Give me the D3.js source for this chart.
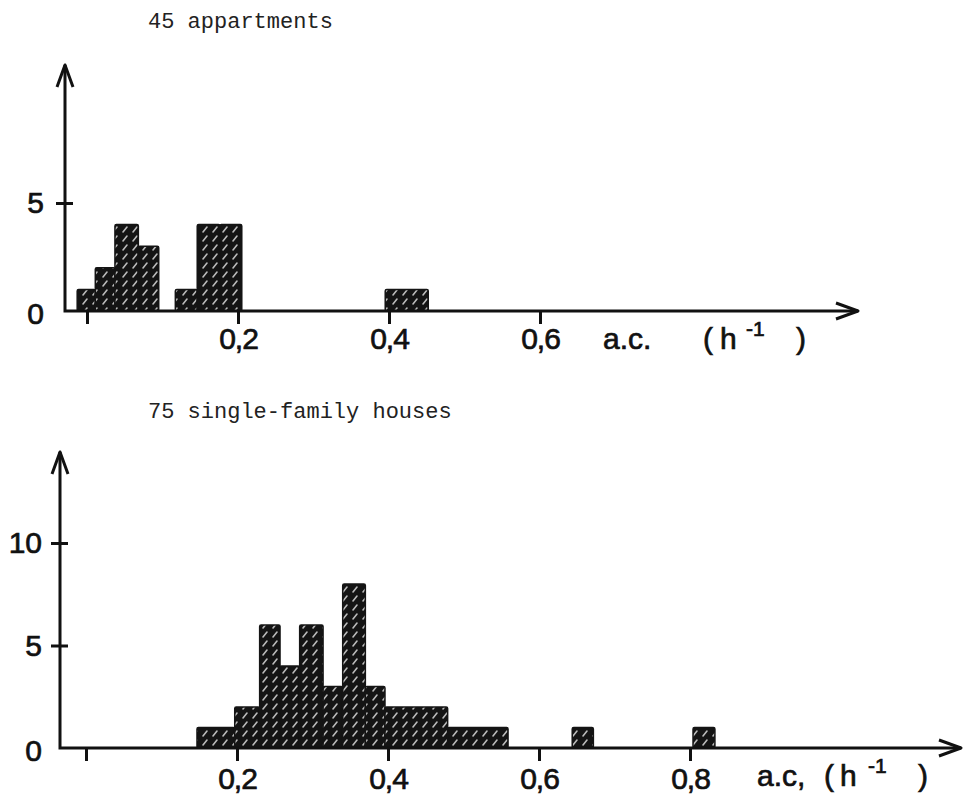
<!DOCTYPE html>
<html>
<head>
<meta charset="utf-8">
<script src="https://cdn.jsdelivr.net/npm/d3@7"></script>
<style>
  body { margin: 0; background: #fff; }
  svg { display: block; }
  .title { font-family: 'Liberation Mono', 'DejaVu Sans Mono', monospace; font-size: 22px; fill: #222; }
  .lbl { font-family: 'Liberation Sans', Arial, sans-serif; font-size: 30px; fill: #111; stroke: #111; stroke-width: 0.7px; }
  .axis .domain { display: none; }
  .axis line { stroke: #111; stroke-width: 3px; }
</style>
</head>
<body>
<div id="chart"></div>
<script>
// top panel: 45 appartments
const topTitle = '45 appartments';
const topBinStart = [-0.013, 0.011, 0.037, 0.068, 0.117, 0.146, 0.176, 0.395];
const topBinEnd = [0.011, 0.037, 0.068, 0.095, 0.146, 0.176, 0.205, 0.452];
const topCounts = [1, 2, 4, 3, 1, 4, 4, 1];
const topXTicks = [0, 0.2, 0.4, 0.6];
const topYTicks = [0, 5];

// bottom panel: 75 single-family houses
const botTitle = '75 single-family houses';
const botBinStart = [0.147, 0.197, 0.230, 0.257, 0.283, 0.314, 0.340, 0.370, 0.396, 0.479, 0.644, 0.804];
const botBinEnd = [0.197, 0.230, 0.257, 0.283, 0.314, 0.340, 0.370, 0.396, 0.479, 0.559, 0.672, 0.833];
const botCounts = [1, 2, 6, 4, 6, 3, 8, 3, 2, 1, 1, 1];
const botXTicks = [0, 0.2, 0.4, 0.6, 0.8];
const botYTicks = [0, 5, 10];

const width = 963;
const height = 802;

const svg = d3.select('#chart')
  .append('svg')
  .attr('width', width)
  .attr('height', height);

const defs = svg.append('defs');
const pat = defs.append('pattern')
  .attr('id', 'hatch')
  .attr('patternUnits', 'userSpaceOnUse')
  .attr('width', 10)
  .attr('height', 9);
pat.append('rect').attr('width', 10).attr('height', 9).attr('fill', '#141414');
pat.append('line')
  .attr('x1', 3).attr('y1', 7).attr('x2', 7).attr('y2', 2)
  .attr('stroke', '#bbb').attr('stroke-width', 1.6).attr('stroke-linecap', 'round');

const commaFmt = d => (d === 0 ? '' : d3.format('.1f')(d).replace('.', ','));

function drawPanel(p) {
  const g = svg.append('g');

  const x = d3.scaleLinear().domain(p.xDomain).range(p.xRange);
  const y = d3.scaleLinear().domain([0, p.yTicks[p.yTicks.length - 1]]).range([p.y0, p.yTop]);

  const bins = p.starts.map((s, i) => ({ x0: s, x1: p.ends[i], n: p.counts[i] }));

  g.selectAll('rect.bar')
    .data(bins)
    .join('rect')
    .attr('class', 'bar')
    .attr('x', d => x(d.x0))
    .attr('width', d => x(d.x1) - x(d.x0))
    .attr('y', d => y(d.n))
    .attr('height', d => y(0) - y(d.n))
    .attr('rx', 1.5)
    .attr('fill', 'url(#hatch)')
    .attr('stroke', '#141414')
    .attr('stroke-width', 1.5);

  // x axis
  const xa = g.append('g')
    .attr('class', 'axis')
    .attr('transform', `translate(0, ${p.y0})`)
    .call(d3.axisBottom(x).tickValues(p.xTicks).tickSize(13).tickPadding(p.xPad).tickFormat(commaFmt));
  xa.selectAll('text').attr('class', 'lbl').attr('letter-spacing', '-1px');

  // y axis
  const ya = g.append('g')
    .attr('class', 'axis')
    .attr('transform', `translate(${p.axisX}, 0)`)
    .call(d3.axisLeft(y).tickValues(p.yTicks).tickSize(9).tickPadding(p.yPad).tickFormat(d3.format('d')));
  ya.selectAll('text').attr('class', 'lbl');
  ya.selectAll('.tick line').attr('x2', d => (d === 0 ? 0 : 8)).attr('x1', d => (d === 0 ? 0 : -9));
  ya.selectAll('.tick').filter(d => d === 0).attr('transform', `translate(0, ${p.y0 + 3})`);

  // axis lines with open arrow heads
  const line = d3.line();
  g.append('path')
    .attr('d', line([[p.axisX, p.arrowY], [p.axisX, p.y0], [p.arrowX, p.y0]]))
    .attr('fill', 'none').attr('stroke', '#111').attr('stroke-width', 3);
  g.append('path')
    .attr('d', line([[p.axisX - 8, p.arrowY + 22], [p.axisX, p.arrowY], [p.axisX + 8, p.arrowY + 22]]))
    .attr('fill', 'none').attr('stroke', '#111').attr('stroke-width', 3).attr('stroke-linejoin', 'round');
  g.append('path')
    .attr('d', line([[p.arrowX - 22, p.y0 - 8], [p.arrowX, p.y0], [p.arrowX - 22, p.y0 + 8]]))
    .attr('fill', 'none').attr('stroke', '#111').attr('stroke-width', 3).attr('stroke-linejoin', 'round');

  g.append('text').attr('class', 'title')
    .attr('x', p.titleX).attr('y', p.titleY).text(p.title);

  // unit label a.c. (h^-1)
  const u = g.append('text').attr('class', 'lbl').attr('y', p.unitY);
  p.unitParts.forEach(part => {
    u.append('tspan')
      .attr('x', part.x)
      .attr('y', part.sup ? p.unitY - 13 : p.unitY)
      .attr('font-size', part.sup ? 21 : null)
      .text(part.t);
  });
}

drawPanel({
  title: topTitle, titleX: 148, titleY: 28,
  starts: topBinStart, ends: topBinEnd, counts: topCounts,
  xTicks: topXTicks, yTicks: topYTicks,
  xDomain: [0, 0.6], xRange: [87, 540],
  y0: 311, yTop: 203, yPad: 12, xPad: 4,
  axisX: 65, arrowY: 65, arrowX: 858,
  unitY: 349,
  unitParts: [{ t: 'a.c.', x: 603 }, { t: '(', x: 703 }, { t: 'h', x: 720 }, { t: '-1', x: 746, sup: true }, { t: ')', x: 796 }]
});

drawPanel({
  title: botTitle, titleX: 148, titleY: 418,
  starts: botBinStart, ends: botBinEnd, counts: botCounts,
  xTicks: botXTicks, yTicks: botYTicks,
  xDomain: [0, 0.8], xRange: [86, 690],
  y0: 748, yTop: 543, yPad: 9, xPad: 7,
  axisX: 60, arrowY: 452, arrowX: 961,
  unitY: 786,
  unitParts: [{ t: 'a.c,', x: 757 }, { t: '(', x: 824 }, { t: 'h', x: 840 }, { t: '-1', x: 868, sup: true }, { t: ')', x: 918 }]
});
</script>
</body>
</html>
